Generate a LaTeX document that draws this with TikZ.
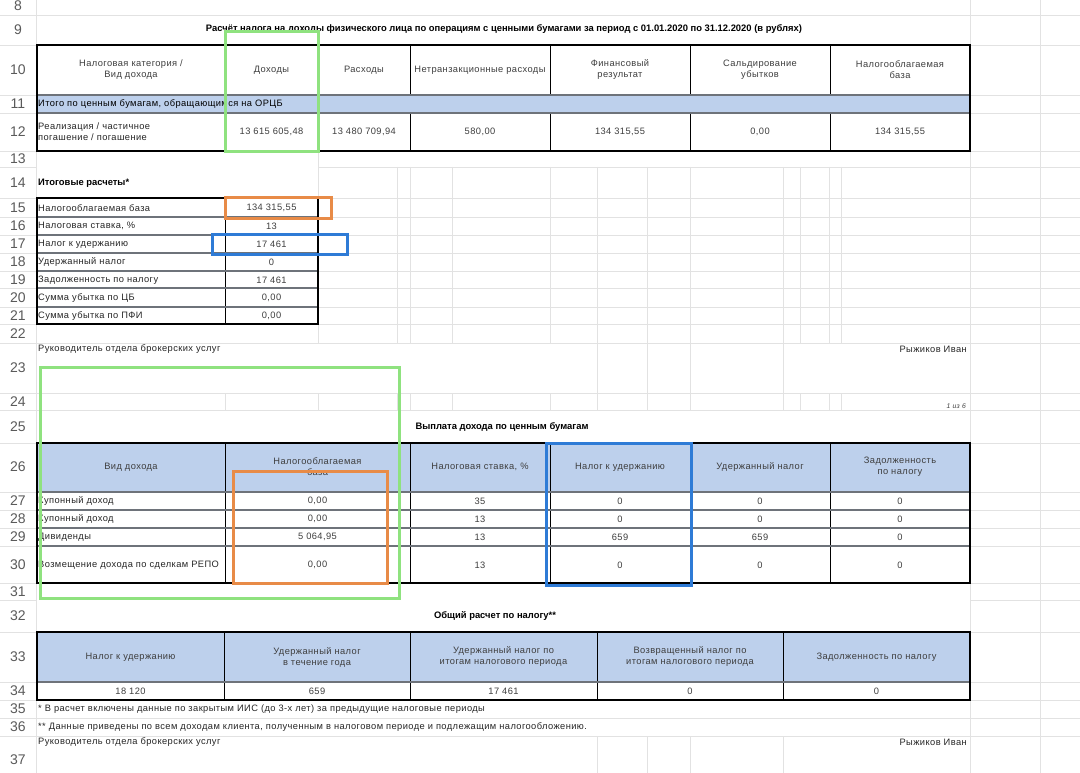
\documentclass[tikz,border=0pt]{standalone}
\usepackage{fontspec}
\setmainfont{Liberation Sans}[LetterSpace=4.5]
\newfontfamily\headfont{Liberation Sans}
\usetikzlibrary{positioning}
\definecolor{gridgray}{RGB}{226,226,226}
\definecolor{sepgray}{RGB}{110,115,122}
\definecolor{headblue}{RGB}{189,208,236}
\definecolor{txtgray}{RGB}{62,62,62}
\definecolor{numgray}{RGB}{90,90,90}
\definecolor{markgreen}{RGB}{143,226,127}
\definecolor{markorange}{RGB}{232,139,71}
\definecolor{markblue}{RGB}{46,123,214}
\newcommand{\cellfont}{\fontsize{9.3}{11}\selectfont}

\begin{document}
\begin{tikzpicture}[x=1pt,y=-1pt,
	rownum/.style={font=\headfont\fontsize{14}{14}\selectfont, text=numgray, inner sep=0pt},
	colhead/.style={font=\cellfont, text=txtgray, align=center, inner sep=0pt},
	val/.style={font=\cellfont, text=txtgray, inner sep=0pt},
	lbl/.style={font=\cellfont, text=black!85, anchor=west, align=left, inner sep=0pt},
	tabtitle/.style={font=\headfont\fontsize{9.4}{11}\selectfont\bfseries, inner sep=0pt},
	sheetgrid/.style={gridgray, line width=0.8pt},
	tblframe/.style={line width=2.6pt, black},
	rowsep/.style={line width=1.6pt, sepgray},
	colsep/.style={line width=0.9pt, black},
	markbox/.style={line width=3pt}]
	\fill[white] (0,0) rectangle (1080,773);
	\useasboundingbox (0,0) rectangle (1080,773);
	% draw sheet grid
	\draw[sheetgrid] (36,0) -- (36,773) (970,0) -- (970,773) (1040,0) -- (1040,773);
	\draw[sheetgrid] (0,15) -- (36,15) (0,45) -- (36,45) (0,95) -- (36,95) (0,113) -- (36,113) (0,151) -- (36,151) (0,167) -- (36,167) (0,198) -- (36,198) (0,217) -- (36,217) (0,235) -- (36,235) (0,253) -- (36,253) (0,271) -- (36,271) (0,288) -- (36,288) (0,307) -- (36,307) (0,324) -- (36,324) (0,343) -- (36,343) (0,393) -- (36,393) (0,410) -- (36,410) (0,443) -- (36,443) (0,492) -- (36,492) (0,510) -- (36,510) (0,528) -- (36,528) (0,546) -- (36,546) (0,583) -- (36,583) (0,600) -- (36,600) (0,632) -- (36,632) (0,682) -- (36,682) (0,700) -- (36,700) (0,718) -- (36,718) (0,736) -- (36,736);
	\draw[sheetgrid] (970,15) -- (1080,15) (970,45) -- (1080,45) (970,95) -- (1080,95) (970,113) -- (1080,113) (970,151) -- (1080,151) (970,167) -- (1080,167) (970,198) -- (1080,198) (970,217) -- (1080,217) (970,235) -- (1080,235) (970,253) -- (1080,253) (970,271) -- (1080,271) (970,288) -- (1080,288) (970,307) -- (1080,307) (970,324) -- (1080,324) (970,343) -- (1080,343) (970,393) -- (1080,393) (970,410) -- (1080,410) (970,443) -- (1080,443) (970,492) -- (1080,492) (970,510) -- (1080,510) (970,528) -- (1080,528) (970,546) -- (1080,546) (970,583) -- (1080,583) (970,600) -- (1080,600) (970,632) -- (1080,632) (970,682) -- (1080,682) (970,700) -- (1080,700) (970,718) -- (1080,718) (970,736) -- (1080,736);
	\draw[sheetgrid] (37,15) -- (970,15) (318,167) -- (970,167) (318,198) -- (970,198) (318,217) -- (970,217) (318,235) -- (970,235) (318,253) -- (970,253) (318,271) -- (970,271) (318,288) -- (970,288) (318,307) -- (970,307) (318,324) -- (970,324) (37,343) -- (970,343) (37,393) -- (970,393) (37,410) -- (970,410) (37,718) -- (970,718) (37,736) -- (970,736);
	\draw[sheetgrid] (318,151) -- (318,343) (397,167) -- (397,343) (410,167) -- (410,343) (452,167) -- (452,343) (550,167) -- (550,343) (597,167) -- (597,393) (647,167) -- (647,393) (690,167) -- (690,393) (783,167) -- (783,393) (800,167) -- (800,343) (829,167) -- (829,343) (841,167) -- (841,343);
	\draw[sheetgrid] (225,393) -- (225,410) (318,393) -- (318,410) (397,393) -- (397,410) (410,393) -- (410,410) (452,393) -- (452,410) (550,393) -- (550,410) (597,393) -- (597,410) (647,393) -- (647,410) (690,393) -- (690,410) (783,393) -- (783,410) (800,393) -- (800,410) (829,393) -- (829,410) (841,393) -- (841,410);
	\draw[sheetgrid] (597,736) -- (597,773) (647,736) -- (647,773) (690,736) -- (690,773) (783,736) -- (783,773);
	% row numbers
	\node[rownum] (r8) at (18,6) {8};
	\node[rownum] (r9) at (18,30) {9};
	\node[rownum] (r10) at (18,70) {10};
	\node[rownum] (r11) at (18,104) {11};
	\node[rownum] (r12) at (18,132) {12};
	\node[rownum] (r13) at (18,159) {13};
	\node[rownum] (r14) at (18,183) {14};
	\node[rownum] (r15) at (18,208) {15};
	\node[rownum] (r16) at (18,226) {16};
	\node[rownum] (r17) at (18,244) {17};
	\node[rownum] (r18) at (18,262) {18};
	\node[rownum] (r19) at (18,280) {19};
	\node[rownum] (r20) at (18,298) {20};
	\node[rownum] (r21) at (18,316) {21};
	\node[rownum] (r22) at (18,334) {22};
	\node[rownum] (r23) at (18,368) {23};
	\node[rownum] (r24) at (18,402) {24};
	\node[rownum] (r25) at (18,427) {25};
	\node[rownum] (r26) at (18,467) {26};
	\node[rownum] (r27) at (18,501) {27};
	\node[rownum] (r28) at (18,519) {28};
	\node[rownum] (r29) at (18,537) {29};
	\node[rownum] (r30) at (18,565) {30};
	\node[rownum] (r31) at (18,592) {31};
	\node[rownum] (r32) at (18,616) {32};
	\node[rownum] (r33) at (18,657) {33};
	\node[rownum] (r34) at (18,691) {34};
	\node[rownum] (r35) at (18,709) {35};
	\node[rownum] (r36) at (18,727) {36};
	\node[rownum] (r37) at (18,760) {37};
	% table of operations
	\node[tabtitle] (title) at (504,29) {Расчёт налога на доходы физического лица по операциям с ценными бумагами за период с 01.01.2020 по 31.12.2020 (в рублях)};
	\fill[headblue] (37,95) rectangle (970,113);
	\draw[colsep] (225,45) -- (225,95) (318,45) -- (318,95) (410,45) -- (410,95) (550,45) -- (550,95) (690,45) -- (690,95) (830,45) -- (830,95);
	\draw[colsep] (225,113) -- (225,151) (318,113) -- (318,151) (410,113) -- (410,151) (550,113) -- (550,151) (690,113) -- (690,151) (830,113) -- (830,151);
	\draw[rowsep] (37,95) -- (970,95) (37,113) -- (970,113);
	\draw[tblframe] (37,45) rectangle (970,151);
	\node[colhead] (hcat) at (131,70) {Налоговая категория /\\Вид дохода};
	\node[colhead] (hinc) at (271.5,70) {Доходы};
	\node[colhead] (hexp) at (364,70) {Расходы};
	\node[colhead] (hnon) at (480,70) {Нетранзакционные расходы};
	\node[colhead] (hfin) at (620,70) {Финансовый\\результат};
	\node[colhead] (hsal) at (760,70) {Сальдирование\\убытков};
	\node[colhead] (hbase) at (900,70) {Налогооблагаемая\\база};
	\node[lbl, text=black] (orcb) at (38,104) {Итого по ценным бумагам, обращающимся на ОРЦБ};
	\node[lbl] (sale) at (38,131.5) {Реализация / частичное\\погашение / погашение};
	\node[val] (vinc) at (271.5,132) {13 615 605,48};
	\node[val] (vexp) at (364,132) {13 480 709,94};
	\node[val] (vnon) at (480,132) {580,00};
	\node[val] (vfin) at (620,132) {134 315,55};
	\node[val] (vsal) at (760,132) {0,00};
	\node[val] (vbase) at (900,132) {134 315,55};
	% totals
	\node[tabtitle, anchor=west] (totals) at (38,183) {Итоговые расчеты*};
	\draw[colsep] (225,198) -- (225,324);
	\draw[rowsep, line width=1.2pt] (37,217) -- (318,217) (37,235) -- (318,235) (37,253) -- (318,253) (37,271) -- (318,271) (37,288) -- (318,288) (37,307) -- (318,307);
	\draw[tblframe] (37,198) rectangle (318,324);
	\node[lbl] (tbase) at (38,208) {Налогооблагаемая база};
	\node[lbl] (trate) at (38,226) {Налоговая ставка, \%};
	\node[lbl] (tdue) at (38,244) {Налог к удержанию};
	\node[lbl] (tpaid) at (38,262) {Удержанный налог};
	\node[lbl] (tdebt) at (38,280) {Задолженность по налогу};
	\node[lbl] (tcb) at (38,298) {Сумма убытка по ЦБ};
	\node[lbl] (tpfi) at (38,316) {Сумма убытка по ПФИ};
	\node[val] (vtbase) at (271.5,208) {134 315,55};
	\node[val] (vtrate) at (271.5,226) {13};
	\node[val] (vtdue) at (271.5,244) {17 461};
	\node[val] (vtpaid) at (271.5,262) {0};
	\node[val] (vtdebt) at (271.5,280) {17 461};
	\node[val] (vtcb) at (271.5,298) {0,00};
	\node[val] (vtpfi) at (271.5,316) {0,00};
	% signature
	\node[lbl] (boss1) at (38,349) {Руководитель отдела брокерских услуг};
	\node[lbl, anchor=east] (name1) at (967,349) {Рыжиков Иван};
	\node[val, font=\fontsize{6.8}{7}\selectfont\itshape, anchor=east] (page) at (966,406) {1 из 6};
	% payouts
	\node[tabtitle] (paytitle) at (502,427) {Выплата дохода по ценным бумагам};
	\fill[headblue] (37,443) rectangle (970,492);
	\draw[colsep] (225,443) -- (225,583) (410,443) -- (410,583) (550,443) -- (550,583) (690,443) -- (690,583) (830,443) -- (830,583);
	\draw[rowsep] (37,492) -- (970,492) (37,510) -- (970,510) (37,528) -- (970,528) (37,546) -- (970,546);
	\draw[tblframe] (37,443) rectangle (970,583);
	\node[colhead] (pkind) at (131,467) {Вид дохода};
	\node[colhead] (pbase) at (317.5,467) {Налогооблагаемая\\база};
	\node[colhead] (prate) at (480,467) {Налоговая ставка, \%};
	\node[colhead] (pdue) at (620,467) {Налог к удержанию};
	\node[colhead] (ppaid) at (760,467) {Удержанный налог};
	\node[colhead] (pdebt) at (900,467) {Задолженность\\по налогу};
	\node[lbl] (cup1) at (38,501) {Купонный доход};
	\node[lbl] (cup2) at (38,519) {Купонный доход};
	\node[lbl] (divd) at (38,537) {Дивиденды};
	\node[lbl] (repo) at (38,565) {Возмещение дохода по сделкам РЕПО};
	\node[val] (b1) at (317.5,501) {0,00};
	\node[val] (b2) at (317.5,519) {0,00};
	\node[val] (b3) at (317.5,537) {5 064,95};
	\node[val] (b4) at (317.5,565) {0,00};
	\node[val] (s1) at (480,501) {35};
	\node[val] (s2) at (480,519) {13};
	\node[val] (s3) at (480,537) {13};
	\node[val] (s4) at (480,565) {13};
	\node[val] (d1) at (620,501) {0};
	\node[val] (d2) at (620,519) {0};
	\node[val] (d3) at (620,537) {659};
	\node[val] (d4) at (620,565) {0};
	\node[val] (w1) at (760,501) {0};
	\node[val] (w2) at (760,519) {0};
	\node[val] (w3) at (760,537) {659};
	\node[val] (w4) at (760,565) {0};
	\node[val] (z1) at (900,501) {0};
	\node[val] (z2) at (900,519) {0};
	\node[val] (z3) at (900,537) {0};
	\node[val] (z4) at (900,565) {0};
	% overall
	\node[tabtitle] (alltitle) at (495,616) {Общий расчет по налогу**};
	\fill[headblue] (37,632) rectangle (970,682);
	\draw[colsep] (224,632) -- (224,700) (410,632) -- (410,700) (597,632) -- (597,700) (783,632) -- (783,700);
	\draw[rowsep] (37,682) -- (970,682);
	\draw[tblframe] (37,632) rectangle (970,700);
	\node[colhead] (adue) at (130.5,657) {Налог к удержанию};
	\node[colhead] (ayear) at (317,657) {Удержанный налог\\в течение года};
	\node[colhead] (aper) at (503.5,657) {Удержанный налог по\\итогам налогового периода};
	\node[colhead] (aback) at (690,657) {Возвращенный налог по\\итогам налогового периода};
	\node[colhead] (adebt) at (876.5,657) {Задолженность по налогу};
	\node[val] (vadue) at (130.5,691) {18 120};
	\node[val] (vayear) at (317,691) {659};
	\node[val] (vaper) at (503.5,691) {17 461};
	\node[val] (vaback) at (690,691) {0};
	\node[val] (vadebt) at (876.5,691) {0};
	\node[lbl] (note1) at (38,709) {* В расчет включены данные по закрытым ИИС (до 3-х лет) за предыдущие налоговые периоды};
	\node[lbl] (note2) at (38,727) {** Данные приведены по всем доходам клиента, полученным в налоговом периоде и подлежащим налогообложению.};
	\node[lbl] (boss2) at (38,742) {Руководитель отдела брокерских услуг};
	\node[lbl, anchor=east] (name2) at (967,742) {Рыжиков Иван};
	% highlight boxes
	\draw[markbox, markgreen] (225,32) rectangle (318,152);
	\draw[markbox, markorange] (225,197.5) rectangle (331,219);
	\draw[markbox, markblue] (212,234.5) rectangle (347,254);
	\draw[markbox, markgreen] (40,367) rectangle (399,598);
	\draw[markbox, markorange] (233,471) rectangle (387,583);
	\draw[markbox, markblue] (546,443.5) rectangle (691,585);
\end{tikzpicture}
\end{document}
